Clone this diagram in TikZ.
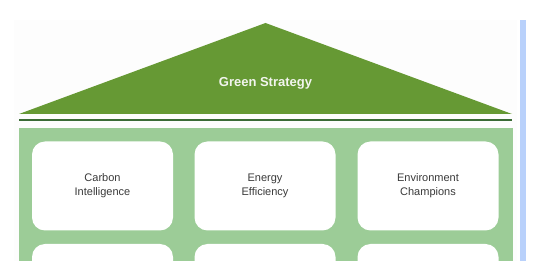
\documentclass[tikz,border=0pt]{standalone}
\usepackage{fontspec}
\setmainfont{Liberation Sans}
\begin{document}
\begin{tikzpicture}[x=1pt,y=-1pt,
  roof/.style={fill=roofgreen,draw=none},
  beam/.style={draw=beamgreen,line width=2pt},
  pillarbg/.style={fill=wallgreen,draw=none},
  pillar/.style={fill=white,draw=none,rounded corners=13pt,minimum width=141pt,minimum height=89pt,
    font=\fontsize{11}{14}\selectfont,text=textgray,align=center,inner sep=0pt},
  title/.style={font=\bfseries\fontsize{13}{15}\selectfont,text=titlewhite}]
\definecolor{roofgreen}{HTML}{669934}
\definecolor{beamgreen}{HTML}{3B6B36}
\definecolor{wallgreen}{HTML}{9CCC97}
\definecolor{textgray}{HTML}{3A3A3A}
\definecolor{titlewhite}{HTML}{F2F5EE}
\definecolor{sidebar}{HTML}{B9D1FB}
\definecolor{paper}{HTML}{FDFDFD}
\useasboundingbox (0,0) rectangle (533,261);
\clip (0,0) rectangle (533,261);
\fill[white] (0,0) rectangle (533,261);
\fill[paper] (14,20) rectangle (517,261);
% side bar
\fill[sidebar] (520,20) rectangle (526,261);
% roof
\coordinate (apex) at (265.5,23);
\coordinate (eaveL) at (19,114);
\coordinate (eaveR) at (512,114);
\fill[roof] (eaveL) -- (apex) -- (eaveR) -- cycle;
\node[title] (strategy) at (265.5,83.5) {Green Strategy};
% beam under the roof
\coordinate (beamL) at (19,120.5);
\coordinate (beamR) at (512,120.5);
\draw[beam] (beamL) -- (beamR);
% wall holding the pillars
\fill[pillarbg] (19,128) rectangle (513,270);
% pillars
\node[pillar] (carbon) at (102.5,186) {Carbon\\Intelligence};
\node[pillar] (energy) at (265,186) {Energy\\Efficiency};
\node[pillar] (champions) at (428,186) {Environment\\Champions};
\node[pillar] (lowA) at (102.5,288.5) {};
\node[pillar] (lowB) at (265,288.5) {};
\node[pillar] (lowC) at (428,288.5) {};
\end{tikzpicture}
\end{document}
